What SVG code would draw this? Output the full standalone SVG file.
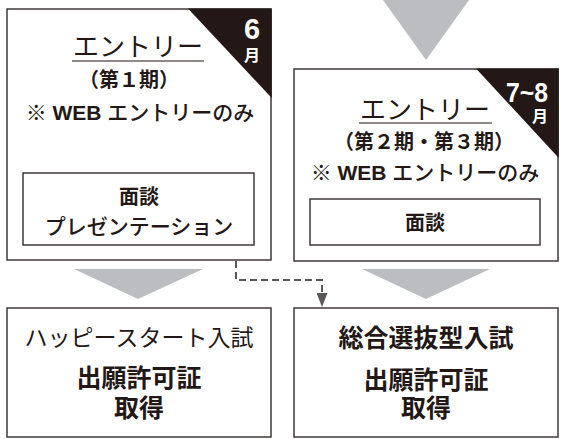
<svg xmlns="http://www.w3.org/2000/svg" width="562" height="439" viewBox="0 0 562 439">
<defs>
<style>
.box{fill:#fff;stroke:#3e3a39;stroke-width:1.5}
.tri{fill:#bcbdc0}
.corner{fill:#231815}
.t{font-family:'Liberation Sans','Noto Sans CJK JP',sans-serif;fill:#231815;text-anchor:middle}
.r{font-weight:400}
.m{font-weight:500}
.b{font-weight:bold}
.w{font-family:'Liberation Sans','Noto Sans CJK JP',sans-serif;fill:#fff;font-weight:bold;text-anchor:middle}
.ul{stroke:#231815;stroke-width:1.2}
.conn{fill:none;stroke:#595757;stroke-width:2;stroke-dasharray:7 4}
</style>
<marker id="arr" viewBox="0 0 14 11" refX="13" refY="5.5" markerWidth="7" markerHeight="5.5" markerUnits="strokeWidth" orient="auto">
<path d="M0,0 L14,5.5 L0,11 Z" fill="#595757"/>
</marker>
</defs>
<g id="arrows">
<polygon class="tri" points="383,0 469,0 426,60"/>
<polygon class="tri" points="74,269 203,269 138,299"/>
<polygon class="tri" points="362,269 490,269 426,299"/>
</g>
<g id="entry1">
<rect class="box" x="7" y="9" width="264" height="251"/>
<polygon class="corner" points="188,8.5 271.75,8.5 271.75,98"/>
<text class="w" x="252" y="39" font-size="29">6</text>
<text class="w" x="252" y="61" font-size="16" font-family="'Noto Sans CJK JP',sans-serif">月</text>
<text class="t r" x="138" y="56" font-size="26">エントリー</text>
<line class="ul" x1="72" y1="61" x2="204" y2="61"/>
<text class="t b" x="129" y="87" font-size="20">（第１期）</text>
<text class="t m" x="140" y="120" font-size="21">※ <tspan font-weight="bold">WEB</tspan> エントリーのみ</text>
<rect class="box" x="23" y="173" width="231" height="72"/>
<text class="t b" x="139" y="204" font-size="20">面談</text>
<text class="t m" x="139" y="234" font-size="21">プレゼンテーション</text>
</g>
<g id="entry23">
<rect class="box" x="294" y="69" width="264" height="192"/>
<polygon class="corner" points="476,68.5 558.75,68.5 558.75,158"/>
<text class="w" x="527" y="102" font-size="27" textLength="42" lengthAdjust="spacingAndGlyphs">7~8</text>
<text class="w" x="540" y="122" font-size="16" font-family="'Noto Sans CJK JP',sans-serif">月</text>
<text class="t r" x="425" y="119" font-size="26">エントリー</text>
<line class="ul" x1="359" y1="123" x2="492" y2="123"/>
<text class="t b" x="424" y="149" font-size="20">（第２期・第３期）</text>
<text class="t m" x="425" y="180" font-size="21">※ <tspan font-weight="bold">WEB</tspan> エントリーのみ</text>
<rect class="box" x="310" y="199" width="230" height="46"/>
<text class="t b" x="425" y="230" font-size="20">面談</text>
</g>
<g id="happy">
<rect class="box" x="7" y="308" width="264" height="129"/>
<text class="t r" x="139" y="346" font-size="23">ハッピースタート入試</text>
<text class="t b" x="139" y="387" font-size="25">出願許可証</text>
<text class="t b" x="139" y="417" font-size="25">取得</text>
</g>
<g id="sougou">
<rect class="box" x="294" y="308" width="264" height="129"/>
<text class="t b" x="426" y="347" font-size="25">総合選抜型入試</text>
<text class="t b" x="426" y="389" font-size="25">出願許可証</text>
<text class="t b" x="426" y="417" font-size="25">取得</text>
</g>
<g id="connectors">
<path class="conn" d="M236,261 V280 H322 V306" marker-end="url(#arr)"/>
</g>
</svg>
